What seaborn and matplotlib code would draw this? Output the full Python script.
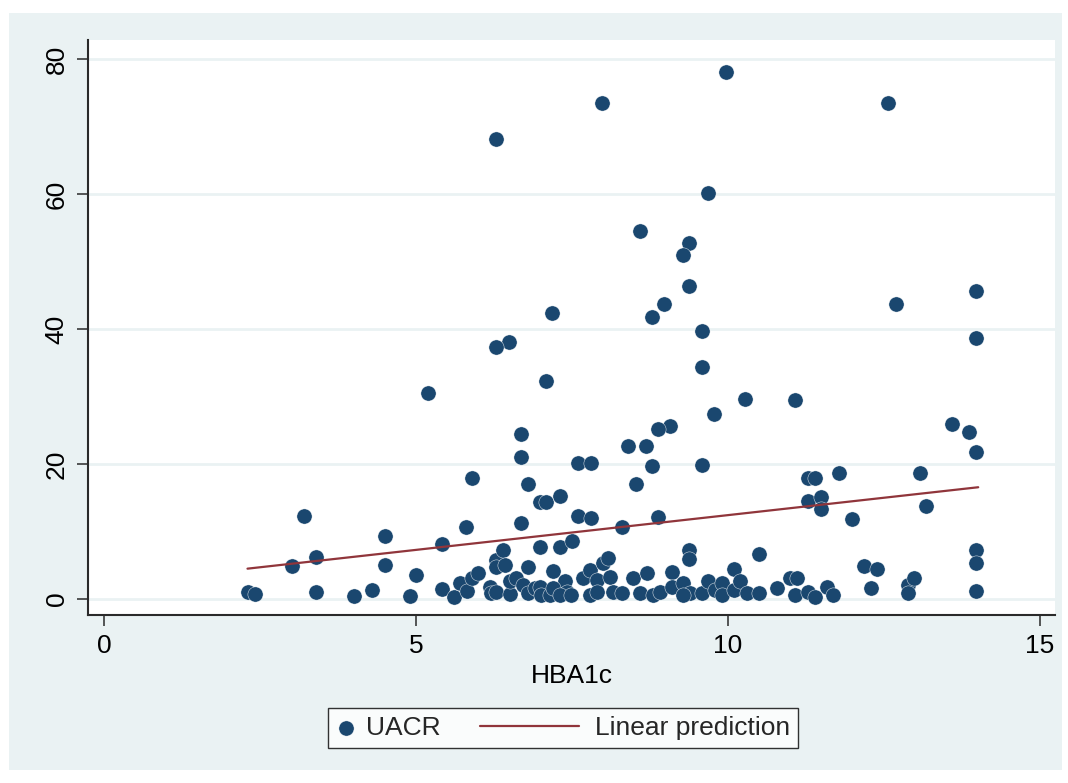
import seaborn as sns
import matplotlib.pyplot as plt
import matplotlib.patches as patches
from matplotlib.legend_handler import HandlerLine2D
from matplotlib.lines import Line2D
import pandas as pd

# values
hba1c = [2.31, 2.42, 3.21, 3.01, 3.40, 3.40, 4.00, 4.30, 4.51, 4.51, 4.90, 5.00,
         5.41, 5.41, 5.80, 5.90, 5.61, 5.71, 5.81, 5.90, 6.00, 6.19, 6.20, 6.29,
         6.29, 6.40, 6.43, 6.29, 6.50, 6.50, 6.61, 6.72, 6.80, 6.80, 6.90, 6.99,
         7.00, 7.15, 6.69, 6.68, 6.79, 6.69, 6.99, 7.09, 7.30, 6.99, 7.30, 7.50,
         7.20, 7.59, 7.80, 7.59, 7.80, 7.39, 7.20, 7.42, 7.31, 7.49, 7.68, 7.79,
         7.90, 8.00, 8.08, 8.11, 7.79, 7.90, 8.16, 8.30, 8.30, 8.39, 8.69, 8.52,
         8.79, 8.88, 8.48, 8.70, 8.59, 8.80, 8.91, 9.10, 9.10, 9.28, 9.39, 9.28,
         9.58, 9.68, 9.79, 9.90, 9.90, 10.09, 10.09, 10.19, 10.30, 10.49, 10.78,
         11.00, 11.10, 11.07, 11.29, 11.39, 11.58, 11.69, 9.59, 9.38, 9.38, 10.49,
         11.29, 11.39, 11.78, 11.29, 11.49, 11.49, 11.99, 12.18, 12.38, 12.29,
         12.89, 12.98, 12.89, 13.08, 13.18, 13.98, 13.98, 13.98, 13.98,
         9.97, 7.98, 12.56, 6.28, 9.68, 8.59, 9.38, 9.28, 9.38, 8.97, 12.69, 13.97,
         7.18, 8.78, 9.58, 13.97, 6.49, 6.28, 9.58, 7.08, 5.19, 10.27, 11.07, 9.78,
         9.07, 8.88, 13.59, 13.86]
uacr = [1.08, 0.74, 12.25, 4.94, 6.17, 1.08, 0.44, 1.33, 9.38, 5.04, 0.44, 3.56,
        1.43, 8.15, 10.6, 17.97, 0.35, 2.3, 1.23, 3.1, 3.9, 1.8, 0.84, 5.8,
        4.8, 7.3, 5.0, 1.1, 0.8, 2.6, 3.1, 2.1, 4.8, 0.84, 1.6, 1.8,
        0.6, 0.6, 21.1, 24.4, 17.1, 11.2, 14.4, 14.3, 15.3, 7.75, 7.75, 8.6,
        4.2, 20.1, 20.1, 12.3, 12.0, 2.6, 1.6, 1.1, 0.6, 0.6, 3.1, 4.3,
        2.8, 5.3, 6.0, 3.3, 0.6, 1.1, 1.1, 0.84, 10.6, 22.6, 22.6, 17.0,
        19.7, 12.1, 3.1, 3.8, 0.84, 0.6, 1.1, 4.0, 1.8, 2.3, 0.84, 0.6,
        0.84, 2.6, 1.3, 2.3, 0.6, 4.4, 1.3, 2.6, 0.84, 0.84, 1.6,
        3.1, 3.1, 0.6, 1.1, 0.35, 1.8, 0.6, 19.8, 7.26, 5.9, 6.67,
        17.9, 17.9, 18.7, 14.5, 15.1, 13.4, 11.9, 4.9, 4.4, 1.6,
        2.1, 3.1, 0.84, 18.6, 13.8, 21.7, 7.2, 5.4, 1.2,
        78.1, 73.5, 73.5, 68.1, 60.1, 54.5, 52.7, 51.0, 46.4, 43.7, 43.7, 45.6,
        42.4, 41.8, 39.7, 38.7, 38.1, 37.3, 34.4, 32.3, 30.5, 29.6, 29.5, 27.4,
        25.6, 25.2, 25.9, 24.7]

# end points of the linear prediction line
fit_x = [2.30, 14.01]
fit_y = [4.49, 16.55]

df = pd.DataFrame({"HBA1c": hba1c, "UACR": uacr})
fit = pd.DataFrame({"HBA1c": fit_x, "pred": fit_y})

navy = "#1A476F"
maroon = "#90353B"
bluish = "#EAF2F3"
fs = 19

sns.set_theme(style="white")
plt.rcParams['font.family'] = ['Liberation Sans', 'DejaVu Sans']

fig = plt.figure(figsize=(10.68, 7.83), dpi=100, facecolor="white")
# light outer region like Stata's graph region
fig.patches.append(patches.Rectangle((9 / 1068, 1 - 770 / 783), 1053 / 1068, 757 / 783,
                                     transform=fig.transFigure, facecolor=bluish,
                                     edgecolor="none", zorder=-10))
ax = fig.add_axes([0.0824, 0.2146, 0.9054, 0.7343])
ax.set_facecolor("white")

sns.scatterplot(data=df, x="HBA1c", y="UACR", ax=ax, color=navy, s=120,
                edgecolor="white", linewidth=0.3, label="UACR", zorder=3)
sns.lineplot(data=fit, x="HBA1c", y="pred", ax=ax, color=maroon, lw=1.6,
             zorder=4, label="Linear prediction")

ax.set_xlim(-0.256, 15.24)
ax.set_ylim(-2.37, 82.8)
ax.set_xticks([0, 5, 10, 15])
ax.set_yticks([0, 20, 40, 60, 80])
ax.grid(axis="y", color=bluish, lw=2)
ax.grid(axis="x", visible=False)
ax.set_axisbelow(True)

for s in ["top", "right"]:
    ax.spines[s].set_visible(False)
for s in ["left", "bottom"]:
    ax.spines[s].set_color("#2a2a2a")
    ax.spines[s].set_linewidth(1.5)

ax.tick_params(axis="both", direction="out", length=8, width=1.1, color="#2a2a2a",
               labelsize=fs, labelcolor="black", left=True, bottom=True, pad=6)
ax.tick_params(axis="y", labelrotation=90)
for lab in ax.get_yticklabels():
    lab.set_va("center")

ax.set_xlabel("HBA1c", fontsize=fs, color="black", labelpad=4)
ax.set_ylabel("")


# legend key for the line: longer than the marker key, like Stata draws it
class LongLine(HandlerLine2D):
    def create_artists(self, legend, orig_handle, xdescent, ydescent,
                       width, height, fontsize, trans):
        y = (height - ydescent) / 2
        line = Line2D([-xdescent - 62, width - xdescent - 4], [y, y])
        self.update_prop(line, orig_handle, legend)
        line.set_transform(trans)
        return [line]


if ax.get_legend() is not None:
    ax.get_legend().remove()
h, l = ax.get_legend_handles_labels()
leg = fig.legend(h, l, ncol=2, loc="center", bbox_to_anchor=(0.5275, 0.0699),
                 fontsize=fs, frameon=True, fancybox=False, edgecolor="black",
                 handlelength=0.7, handletextpad=0.41, columnspacing=4.77,
                 borderpad=0.3, scatterpoints=1,
                 handler_map={Line2D: LongLine()})
leg.get_frame().set_linewidth(1.0)
leg.get_frame().set_facecolor("white")

fig.savefig("out.png", dpi=100, facecolor="white")
